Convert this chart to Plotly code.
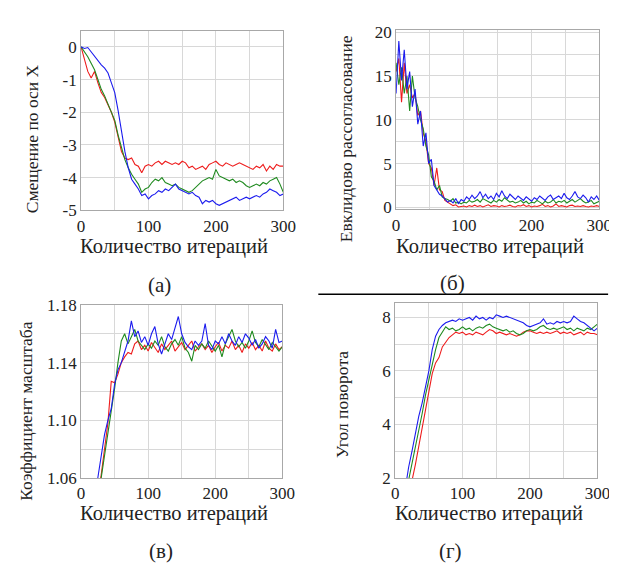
import plotly.graph_objects as go

# ---------------- data ----------------
it_a = list(range(0, 301, 5))
a_red = [0.0, -0.35, -0.75, -0.95, -0.75, -1.1, -1.4, -1.55, -1.75, -2.0, -2.3, -2.8, -3.2, -3.4, -3.45, -3.4,
         -3.6, -3.65, -3.85, -3.65, -3.6, -3.65, -3.55, -3.5, -3.6, -3.5, -3.55, -3.6, -3.55, -3.6, -3.5, -3.55,
         -3.7, -3.65, -3.75, -3.7, -3.65, -3.75, -3.6, -3.55, -3.5, -3.6, -3.65, -3.55, -3.6, -3.65, -3.6, -3.55,
         -3.6, -3.65, -3.7, -3.75, -3.65, -3.7, -3.6, -3.8, -3.65, -3.75, -3.6, -3.65, -3.65]
a_green = [0.0, -0.15, -0.3, -0.5, -0.7, -1.0, -1.3, -1.5, -1.75, -2.0, -2.25, -2.7, -3.1, -3.45, -3.7, -3.9,
           -4.05, -4.2, -4.45, -4.35, -4.3, -4.15, -4.05, -4.1, -4.0, -4.15, -4.2, -4.25, -4.2, -4.3, -4.35, -4.4,
           -4.45, -4.4, -4.3, -4.2, -4.1, -4.05, -4.0, -4.05, -3.75, -3.95, -4.0, -4.05, -4.1, -4.05, -4.15, -4.1,
           -4.15, -4.25, -4.3, -4.25, -4.2, -4.25, -4.15, -4.2, -4.1, -4.05, -4.0, -4.2, -4.45]
a_blue = [0.0, -0.05, -0.02, -0.15, -0.3, -0.4, -0.55, -0.65, -0.8, -1.1, -1.4, -1.95, -2.6, -3.2, -3.7, -4.05,
          -4.2, -4.35, -4.55, -4.5, -4.65, -4.55, -4.5, -4.4, -4.45, -4.35, -4.4, -4.3, -4.2, -4.35, -4.4, -4.45,
          -4.5, -4.45, -4.55, -4.6, -4.8, -4.7, -4.75, -4.7, -4.8, -4.85, -4.8, -4.75, -4.7, -4.65, -4.6, -4.7,
          -4.65, -4.6, -4.65, -4.6, -4.55, -4.6, -4.5, -4.45, -4.35, -4.4, -4.45, -4.55, -4.5]

it_b = list(range(0, 301, 4))
b_red = [15.5, 17.0, 12.0, 16.5, 13.0, 14.0, 12.5, 13.0, 10.5, 11.0, 8.5, 7.5, 5.0, 4.5, 2.5, 4.5, 2.0, 1.8,
         0.8, 0.6, 0.3, 0.2, 0.3, 0.05, 0.1,
         0.15, 0.05, 0.2, 0.1, 0.25, 0.1, 0.2, 0.05, 0.15, 0.3, 0.1, 0.2, 0.15, 0.05, 0.2, 0.1, 0.15, 0.25,
         0.1, 0.05, 0.2, 0.15, 0.3, 0.1, 0.2, 0.05, 0.15, 0.1, 0.2, 0.35, 0.1, 0.2, 0.05, 0.15, 0.4, 0.1,
         0.2, 0.15, 0.05, 0.2, 0.25, 0.1, 0.15, 0.1, 0.2, 0.1, 0.05, 0.15, 0.1, 0.2, 0.1]
b_green = [16.5, 14.0, 16.0, 13.0, 15.0, 11.0, 15.0, 12.5, 11.5, 10.0, 9.0, 7.0, 6.0, 3.5, 3.0, 2.0, 2.5, 1.2,
           1.0, 0.9, 0.7, 1.0, 0.5, 0.6, 0.4,
           0.6, 0.5, 0.8, 0.6, 0.7, 0.9, 0.6, 1.0, 0.8, 0.7, 0.5, 0.8, 0.6, 0.9, 0.7, 1.1, 0.8, 0.6, 0.7,
           0.5, 0.6, 0.8, 0.5, 0.7, 0.4, 0.6, 0.5, 0.8, 0.6, 0.4, 0.7, 0.5, 0.6, 0.9, 0.5, 0.7, 0.6, 0.8,
           0.5, 0.7, 0.9, 0.6, 0.8, 1.0, 0.7, 0.5, 0.6, 0.8, 0.4, 0.6, 0.7]
b_blue = [13.0, 19.0, 14.5, 18.0, 13.5, 15.5, 11.5, 13.5, 9.5, 11.0, 7.0, 8.5, 5.0, 5.5, 2.5, 2.0, 1.5, 1.3,
          1.0, 0.6, 0.8, 0.5, 1.0, 0.4, 0.9,
          0.7, 1.2, 0.9, 1.4, 1.0, 1.3, 1.8, 1.1, 1.5, 1.0, 1.3, 0.9, 1.6, 1.2, 1.9, 1.3, 1.0, 1.5, 1.2,
          0.9, 1.3, 1.1, 0.8, 1.2, 1.0, 0.7, 1.1, 0.9, 1.3, 1.0, 0.8, 1.2, 1.4, 0.9, 1.1, 1.3, 1.0, 1.6,
          1.1, 0.9, 1.3, 1.8, 1.2, 1.0, 1.4, 1.1, 0.6, 1.2, 0.9, 1.3, 0.8]

it_c = list(range(20, 301, 5))
c_red = [1.03, 1.045, 1.062, 1.08, 1.098, 1.127, 1.126, 1.132, 1.14, 1.144, 1.147, 1.146, 1.153, 1.155, 1.149,
         1.152, 1.148, 1.154, 1.15, 1.147, 1.153, 1.149, 1.152, 1.155, 1.148, 1.151, 1.154, 1.149, 1.152,
         1.155, 1.148, 1.151, 1.153, 1.149, 1.152, 1.147, 1.151, 1.154, 1.148, 1.152, 1.15, 1.155, 1.149,
         1.152, 1.147, 1.153, 1.15, 1.154, 1.149, 1.152, 1.148, 1.155, 1.15, 1.148, 1.153, 1.149, 1.151]
c_green = [1.035, 1.05, 1.06, 1.075, 1.093, 1.108, 1.122, 1.14, 1.155, 1.16, 1.153, 1.158, 1.163, 1.155, 1.152,
           1.149, 1.153, 1.15, 1.155, 1.152, 1.158, 1.151, 1.148, 1.153, 1.156, 1.152, 1.158, 1.15, 1.147,
           1.141, 1.152, 1.149, 1.153, 1.15, 1.155, 1.151, 1.148, 1.152, 1.144, 1.153, 1.158, 1.163, 1.155,
           1.151, 1.154, 1.15, 1.155, 1.162, 1.154, 1.151, 1.156, 1.152, 1.149, 1.154, 1.151, 1.148, 1.151]
c_blue = [1.045, 1.06, 1.075, 1.09, 1.10, 1.108, 1.125, 1.135, 1.14, 1.147, 1.155, 1.169, 1.158, 1.162, 1.154,
          1.158, 1.152, 1.16, 1.165, 1.153, 1.146, 1.153, 1.16, 1.156, 1.164, 1.172, 1.16, 1.154, 1.151,
          1.149, 1.155, 1.152, 1.155, 1.167, 1.152, 1.149, 1.155, 1.153, 1.158, 1.153, 1.16, 1.155, 1.152,
          1.158, 1.154, 1.16, 1.157, 1.152, 1.156, 1.15, 1.153, 1.158, 1.155, 1.15, 1.163, 1.154, 1.155]

it_d = list(range(15, 301, 5))
d_red = [0.8, 1.3, 1.9, 2.5, 3.2, 3.9, 4.6, 5.3, 5.9, 6.3, 6.5, 6.9, 7.1, 7.25, 7.35, 7.45, 7.4, 7.45, 7.35,
         7.4, 7.35, 7.45, 7.4, 7.35, 7.45, 7.55, 7.5, 7.4, 7.45, 7.4, 7.35, 7.4, 7.35, 7.3, 7.35, 7.45, 7.5,
         7.5, 7.45, 7.4, 7.45, 7.4, 7.45, 7.4, 7.45, 7.5, 7.4, 7.45, 7.4, 7.45, 7.35, 7.4, 7.45, 7.35, 7.45,
         7.4, 7.4, 7.35]
d_green = [1.3, 1.9, 2.5, 3.1, 3.8, 4.4, 5.1, 5.7, 6.3, 6.8, 7.25, 7.45, 7.65, 7.55, 7.6, 7.5, 7.55, 7.65,
           7.55, 7.6, 7.5, 7.6, 7.65, 7.6, 7.7, 7.75, 7.65, 7.6, 7.55, 7.5, 7.55, 7.45, 7.5, 7.4, 7.35, 7.4,
           7.5, 7.55, 7.5, 7.55, 7.65, 7.7, 7.6, 7.55, 7.6, 7.55, 7.6, 7.65, 7.55, 7.6, 7.5, 7.6, 7.55, 7.5,
           7.6, 7.55, 7.65, 7.75]
d_blue = [1.6, 2.4, 3.0, 3.7, 4.3, 4.8, 5.4, 6.0, 6.8, 7.3, 7.55, 7.7, 7.8, 7.85, 7.9, 7.85, 7.95, 7.9, 7.95,
          8.0, 7.9, 8.05, 7.95, 8.0, 7.9, 8.0, 7.95, 8.1, 8.05, 8.0, 8.05, 8.0, 7.95, 7.9, 7.85, 7.8, 7.7,
          7.65, 7.7, 7.75, 7.8, 7.95, 7.75, 7.8, 7.75, 7.85, 7.8, 7.85, 7.8, 7.85, 8.05, 7.95, 7.85, 7.8, 7.7,
          7.6, 7.5, 7.6]

x_ticks = [0, 100, 200, 300]
x_title = "Количество итераций"
y_titles = ["Смещение по оси X", "Евклидово рассогласование", "Коэффициент масштаба", "Угол поворота"]
panel_labels = ["(а)", "(б)", "(в)", "(г)"]
a_ticks = [0, -1, -2, -3, -4, -5]
a_ticktext = ["0", "-1", "-2", "-3", "-4", "-5"]

# ---------------- figure ----------------
W, H = 617, 564
RED, GREEN, BLUE = "#ee1c1c", "#1f8a1f", "#1c1cee"
FONT = "Liberation Serif"

def px(xp):
    return xp / W

def py(yp):
    return 1 - yp / H

fig = go.Figure()
panels = [
    (it_a, [a_red, a_green, a_blue]),
    (it_b, [b_red, b_green, b_blue]),
    (it_c, [c_red, c_green, c_blue]),
    (it_d, [d_red, d_green, d_blue]),
]
for i, (xs, series) in enumerate(panels):
    n = "" if i == 0 else str(i + 1)
    for ys, col in zip(series, [RED, GREEN, BLUE]):
        fig.add_trace(go.Scatter(x=xs, y=ys, mode="lines", line=dict(color=col, width=1.1),
                                 xaxis="x" + n, yaxis="y" + n, showlegend=False, hoverinfo="skip"))

# plot-area boxes in pixels: (left, right, top, bottom)
boxes = [(71, 279, 14, 200), (395, 604, 13, 199), (71, 278, 298, 477), (394, 602, 296, 477)]

axis_common = dict(showline=True, mirror=True, linecolor="#a8a8a8", linewidth=1,
                   showgrid=True, gridcolor="#d8d8d8", gridwidth=1, zeroline=False,
                   ticks="", tickfont=dict(family=FONT, size=17, color="#222"))

yaxes = [
    dict(range=[-5, 0.5], tickvals=a_ticks, ticktext=a_ticktext),
    dict(range=[-0.22, 20.3], tick0=0, dtick=5, minor=dict(tick0=0, dtick=2.5, showgrid=True, gridcolor="#d8d8d8")),
    dict(range=[1.06, 1.18], tick0=1.06, dtick=0.04, tickformat=".2f",
         minor=dict(tick0=1.06, dtick=0.02, showgrid=True, gridcolor="#d8d8d8")),
    dict(range=[2, 8.54], tick0=2, dtick=2, minor=dict(tick0=2, dtick=1, showgrid=True, gridcolor="#d8d8d8")),
]

for i, (l, r, t, b) in enumerate(boxes):
    n = "" if i == 0 else str(i + 1)
    xa = dict(axis_common, domain=[px(l), px(r)], range=[0, 300], tickvals=x_ticks,
              minor=dict(tick0=0, dtick=50, showgrid=True, gridcolor="#d8d8d8"),
              anchor="y" + n)
    ya = dict(axis_common, domain=[py(b), py(t)], anchor="x" + n)
    ya.update(yaxes[i])
    fig.layout["xaxis" + n] = xa
    fig.layout["yaxis" + n] = ya

annotations = []
# x titles
xtitle_pos = [(167, 238), (492, 238), (167, 514), (491, 514)]
for (xp_, yp_) in xtitle_pos:
    annotations.append(dict(x=px(xp_), y=py(yp_), text=x_title, showarrow=False,
                            xanchor="center", yanchor="middle",
                            xref="paper", yref="paper", font=dict(family=FONT, size=20.5, color="#222")))
# y titles
ytitle_pos = [(20, 126), (343, 126), (15, 408), (340, 401)]
for (xp_, yp_), txt in zip(ytitle_pos, y_titles):
    annotations.append(dict(x=px(xp_), y=py(yp_), text=txt, showarrow=False, textangle=-90,
                            xanchor="center", yanchor="middle",
                            xref="paper", yref="paper", font=dict(family=FONT, size=17.5, color="#222")))
# panel labels
label_pos = [(152, 277), (453, 275), (153, 553), (451, 553)]
for (xp_, yp_), txt in zip(label_pos, panel_labels):
    annotations.append(dict(x=px(xp_), y=py(yp_), text=txt, showarrow=False,
                            xanchor="center", yanchor="middle",
                            xref="paper", yref="paper", font=dict(family=FONT, size=21, color="#222")))

fig.update_layout(
    width=W, height=H, margin=dict(l=0, r=0, t=0, b=0),
    paper_bgcolor="white", plot_bgcolor="white",
    font=dict(family=FONT),
    annotations=annotations,
    shapes=[dict(type="line", xref="paper", yref="paper", x0=px(315), x1=px(613), y0=py(287), y1=py(287),
                 line=dict(color="black", width=1.5))],
)

fig.write_html("out.html")
